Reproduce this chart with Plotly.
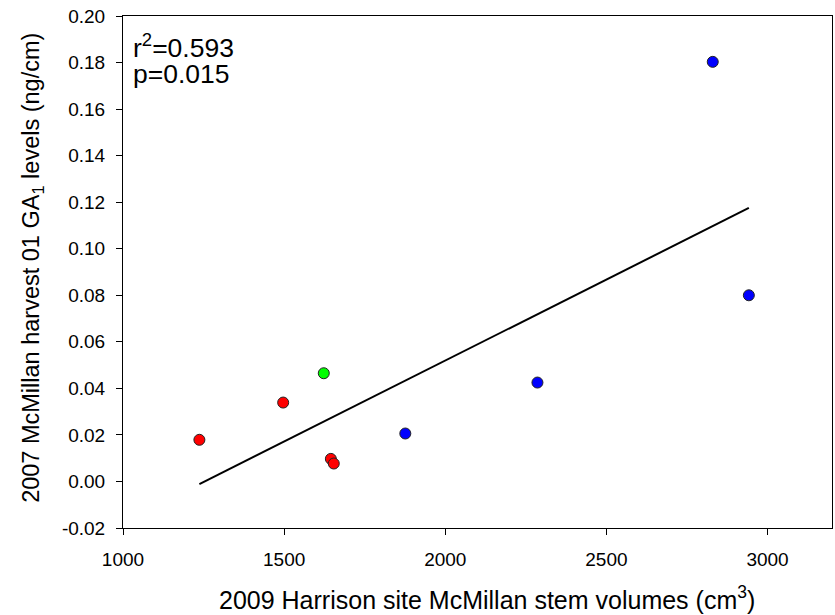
import numpy as np
import plotly.graph_objects as go

# Stem volume (cm^3) vs GA1 level (ng/cm), grouped by marker colour
red_x = [1237, 1497, 1645, 1654]
red_y = [0.0179, 0.0339, 0.0097, 0.0077]
green_x = [1623]
green_y = [0.0465]
blue_x = [1876, 2286, 2830, 2942]
blue_y = [0.0206, 0.0425, 0.1803, 0.0800]

stats_lines = ["r<sup>2</sup>=0.593", "p=0.015"]
x_ticks = [1000, 1500, 2000, 2500, 3000]
y_ticks = [-0.02, 0.00, 0.02, 0.04, 0.06, 0.08, 0.10, 0.12, 0.14, 0.16, 0.18, 0.20]
x_title = "2009 Harrison site McMillan stem volumes (cm<sup>3</sup>)"
y_title = "2007 McMillan harvest 01 GA<sub>1</sub> levels (ng/cm)"

FONT = "Arial, Liberation Sans, sans-serif"

all_x = np.array(red_x + green_x + blue_x, dtype=float)
all_y = np.array(red_y + green_y + blue_y, dtype=float)
slope, intercept = np.polyfit(all_x, all_y, 1)
fit_x = np.array([all_x.min(), all_x.max()])
fit_y = slope * fit_x + intercept

fig = go.Figure()
fig.add_trace(go.Scatter(x=fit_x, y=fit_y, mode="lines",
                         line=dict(color="black", width=2), hoverinfo="skip"))

marker_line = dict(color="#222222", width=1)
for xs, ys, col in [(red_x, red_y, "#FF0000"), (green_x, green_y, "#00FF00"),
                    (blue_x, blue_y, "#0000FF")]:
    fig.add_trace(go.Scatter(x=xs, y=ys, mode="markers",
                             marker=dict(size=11, color=col, line=marker_line)))

axis_common = dict(showgrid=False, zeroline=False, showline=True, linecolor="black",
                   linewidth=1, mirror=True, ticks="outside", ticklen=6,
                   tickcolor="black", tickfont=dict(family=FONT, size=19, color="black"))

fig.update_xaxes(range=[1000, 3200], tickvals=x_ticks,
                 ticktext=[str(v) for v in x_ticks], ticklabelstandoff=8,
                 **axis_common)
fig.update_yaxes(range=[-0.02, 0.20], tickvals=y_ticks,
                 ticktext=[f"{v:.2f}" for v in y_ticks], ticklabelstandoff=7,
                 **axis_common)

# Axis titles placed as annotations
fig.add_annotation(xref="paper", yref="paper", x=0.514, y=-0.137,
                   xanchor="center", yanchor="middle", text=x_title, showarrow=False,
                   font=dict(family=FONT, size=25, color="black"))
fig.add_annotation(xref="paper", yref="paper", x=-0.127, y=0.508,
                   xanchor="center", yanchor="middle", textangle=-90, text=y_title,
                   showarrow=False, font=dict(family=FONT, size=23.5, color="black"))

# Regression statistics
for txt, ypos in zip(stats_lines, [0.941, 0.886]):
    fig.add_annotation(xref="paper", yref="paper", x=0.011, y=ypos, xanchor="left",
                       yanchor="middle", text=txt, showarrow=False, align="left",
                       font=dict(family=FONT, size=26.5, color="black"))

fig.update_layout(width=835, height=615, showlegend=False,
                  plot_bgcolor="white", paper_bgcolor="white",
                  margin=dict(l=123, r=3, t=16, b=87))

fig.write_html("out.html")
